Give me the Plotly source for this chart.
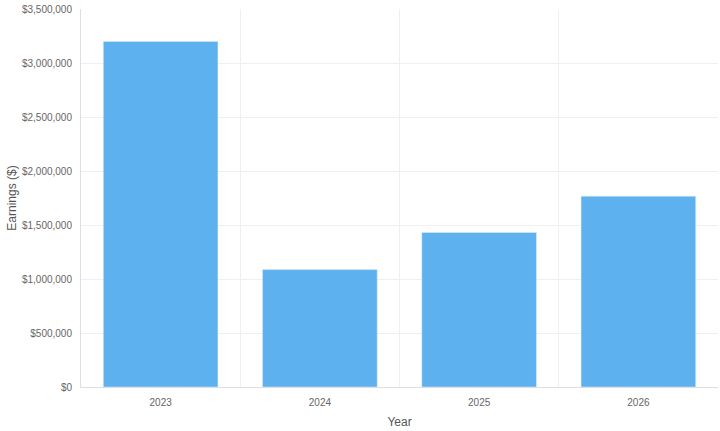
import plotly.graph_objects as go

years = ["2023", "2024", "2025", "2026"]
earnings = [3200000, 1087000, 1430000, 1767000]

fig = go.Figure()
fig.add_trace(go.Bar(x=years, y=earnings, marker_color="#5DB1EE", width=0.72))

fig.update_layout(
    width=720,
    height=431,
    margin=dict(l=81, r=2, t=9, b=44),
    plot_bgcolor="white",
    paper_bgcolor="white",
    font=dict(family="Liberation Sans, Arial, sans-serif", size=10, color="#666666"),
    showlegend=False,
)
fig.update_xaxes(
    title=dict(text="Year", font=dict(size=12, color="#555555"), standoff=10),
    automargin=False,
    showgrid=True,
    gridcolor="#EEEEF4",
    tickson="boundaries",
    ticks="",
    ticklabelstandoff=6,
    showline=True,
    linecolor="#DDDDE6",
)
fig.update_yaxes(
    title=dict(text="Earnings ($)", font=dict(size=12, color="#555555"), standoff=2),
    automargin=False,
    range=[0, 3500000],
    dtick=500000,
    tickprefix="$",
    tickformat=",d",
    ticklabelstandoff=6,
    showgrid=True,
    gridcolor="#EEEEF4",
    showline=True,
    linecolor="#DDDDE6",
    zeroline=False,
)

# drop the page's default 8px body margin so the figure fills the window
fig.write_html("out.html", config={"displayModeBar": False},
               post_script="document.body.style.margin='0';")
